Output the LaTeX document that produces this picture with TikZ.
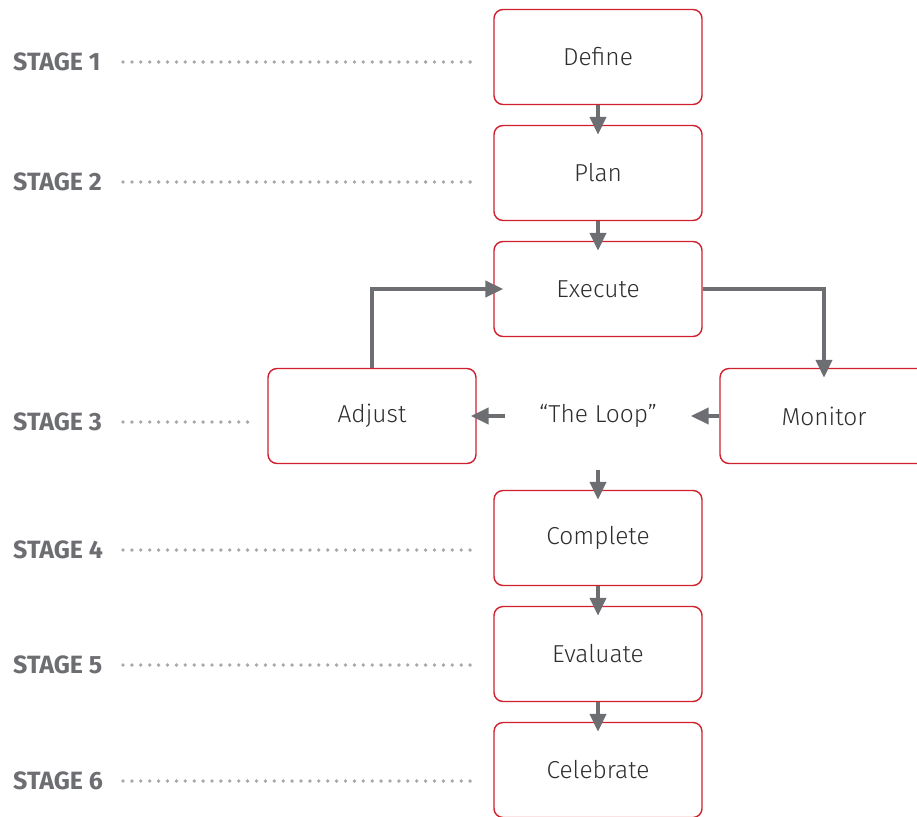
\documentclass[tikz,border=0pt]{standalone}
\usepackage{fontspec}
\setmainfont{Fira Sans Light}[BoldFont=Fira Sans Bold]
\usetikzlibrary{arrows.meta}
\definecolor{boxred}{HTML}{D0202E}
\definecolor{arrowgray}{HTML}{6D6E71}
\definecolor{dotgray}{HTML}{A7A9AC}
\definecolor{textdark}{HTML}{2E2E2E}
\tikzset{
  stepbox/.style={draw=boxred, line width=1.4pt, rounded corners=9pt,
    minimum width=208pt, minimum height=95pt, inner sep=0pt,
    font=\fontsize{24.5}{28}\selectfont, text=textdark},
  flow/.style={draw=arrowgray, line width=4pt,
    -{Triangle[length=18pt,width=16pt]}, shorten >=-10pt},
  stagelabel/.style={anchor=west, inner sep=0pt, text=arrowgray,
    font=\fontsize{25}{28}\selectfont\bfseries},
  leader/.style={draw=dotgray, line width=3.8pt, line cap=round,
    dash pattern=on 0pt off 8.9pt},
}
\begin{document}
\begin{tikzpicture}[x=1pt,y=-1pt]
\useasboundingbox (0,0) rectangle (917,816);

% main column of stages
\node[stepbox] (define)   at (598,57)  {Define};
\node[stepbox] (plan)     at (598,173) {Plan};
\node[stepbox] (execute)  at (598,289) {Execute};
\node[stepbox] (adjust)   at (372,416) {Adjust};
\node[stepbox] (monitor)  at (824,416) {Monitor};
\node[inner sep=0pt, minimum width=185pt, minimum height=108pt,
      font=\fontsize{24.5}{28}\selectfont, text=textdark] (loop) at (598,416) {“The Loop”};
\node[stepbox] (complete) at (598,538) {Complete};
\node[stepbox] (evaluate) at (598,654) {Evaluate};
\node[stepbox] (celebrate) at (598,770) {Celebrate};

% connectors
\draw[flow] (define) -- (plan);
\draw[flow] (plan) -- (execute);
\draw[flow] (execute.east) -| (monitor.north);
\draw[flow] (adjust.north) |- (execute.west);
\draw[flow, shorten >=-6pt] (loop.west) -- (adjust.east);
\draw[flow, shorten >=0pt] (monitor.west) -- (loop.east);
\draw[flow] (loop.south) -- (complete.north);
\draw[flow] (complete) -- (evaluate);
\draw[flow] (evaluate) -- (celebrate);

% stage labels with dotted leaders
\foreach \n/\y/\xe in {1/62/473, 2/182/473, 3/422/256, 4/550/473, 5/665/473, 6/781/473}{
  \node[stagelabel] (s\n) at (13,\y) {STAGE \n};
  \coordinate (b\n) at (123,\y);
  \coordinate (e\n) at (\xe,\y);
  \draw[leader] (b\n) -- (e\n);
}
\end{tikzpicture}
\end{document}
